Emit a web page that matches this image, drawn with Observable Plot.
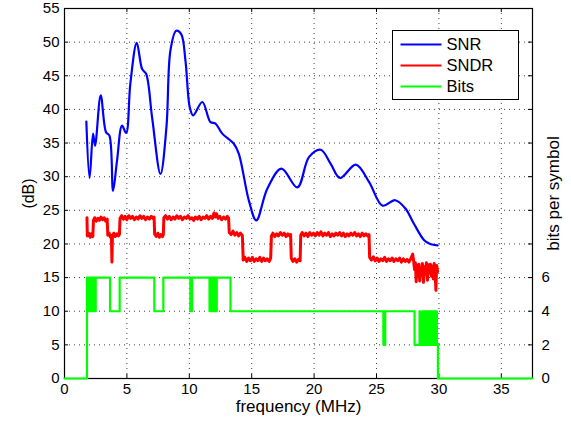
<!DOCTYPE html>
<html>
<head>
<meta charset="utf-8">
<script src="https://cdn.jsdelivr.net/npm/d3@7"></script>
<script src="https://cdn.jsdelivr.net/npm/@observablehq/plot@0.6"></script>
<style>
  html, body { margin: 0; padding: 0; background: #fff; }
  #chart { width: 571px; height: 426px; }
</style>
</head>
<body>
<div id="chart"></div>
<script>
// ---- data ----
const xTicks = [0, 5, 10, 15, 20, 25, 30, 35];
const yTicks = [0, 5, 10, 15, 20, 25, 30, 35, 40, 45, 50, 55];
const bitTicks = [0, 2, 4, 6];

const snrF  = [1.75, 2.01, 2.29, 2.45, 2.9, 3.33, 3.6, 3.89, 4.21, 4.61, 4.94, 5.28, 5.79, 6.22, 6.54, 7.02, 7.69, 8.17, 8.49, 8.95, 9.35, 9.69, 10.04, 10.31, 11.04, 11.7, 12.1, 12.64, 13.57, 13.97, 14.78, 15.37, 16.25, 17.38, 18.66, 19.59, 20.53, 21.33, 22.08, 23.34, 24.41, 25.48, 26.5, 27.3, 28.0, 28.8, 29.3, 29.9];
const snrDb = [38.2, 29.8, 36.4, 34.6, 42.1, 36.6, 36.1, 27.9, 32.4, 37.6, 36.5, 43.9, 49.9, 46.0, 45.3, 38.8, 30.4, 37.4, 48.8, 51.7, 51.2, 47.3, 40.3, 39.1, 41.1, 38.1, 37.9, 36.4, 34.9, 33.4, 26.4, 23.5, 28.2, 31.2, 28.4, 32.9, 34.0, 31.9, 29.8, 31.8, 29.2, 25.7, 26.5, 25.3, 23.0, 20.6, 20.0, 19.8];

const sndrF = [1.80, 1.83, 1.95, 2.05, 2.15, 2.27, 2.32, 2.42, 2.55, 2.68, 2.80, 2.92, 3.05, 3.18, 3.30, 3.42, 3.47, 3.58, 3.68, 3.76, 3.80, 3.84, 3.95, 4.07, 4.20, 4.32, 4.40,
  4.45, 4.58, 4.72, 4.86, 5.00, 5.15, 5.30, 5.45, 5.60, 5.75, 5.90, 6.05, 6.20, 6.35, 6.50, 6.65, 6.80, 6.95, 7.10, 7.18,
  7.22, 7.35, 7.48, 7.60, 7.72, 7.85, 7.92,
  7.96, 8.10, 8.25, 8.40, 8.55, 8.70, 8.85, 9.00, 9.15, 9.30, 9.45, 9.60, 9.75, 9.90, 10.05, 10.20, 10.35, 10.50, 10.65, 10.80, 10.95, 11.10, 11.25, 11.40, 11.55, 11.70, 11.85, 11.98, 12.08, 12.18, 12.30, 12.45, 12.60, 12.75, 12.90, 13.05, 13.15,
  13.20, 13.35, 13.50, 13.65, 13.80, 13.95, 14.10, 14.25,
  14.32, 14.45, 14.60, 14.75, 14.90, 15.05, 15.20, 15.35, 15.50, 15.65, 15.80, 15.95, 16.10, 16.25, 16.40, 16.52,
  16.58, 16.70, 16.85, 17.00, 17.15, 17.30, 17.45, 17.60, 17.75, 17.90, 18.05, 18.12,
  18.17, 18.30, 18.45, 18.60, 18.75, 18.88,
  18.93, 19.05, 19.20, 19.35, 19.50, 19.65, 19.80, 19.95, 20.10, 20.25, 20.40, 20.55, 20.70, 20.85, 21.00, 21.15, 21.30, 21.45, 21.60, 21.75, 21.90, 22.05, 22.20, 22.35, 22.50, 22.65, 22.80, 22.95, 23.10, 23.25, 23.40, 23.55, 23.70, 23.85, 24.00, 24.15, 24.30, 24.40,
  24.45, 24.60, 24.75, 24.90, 25.05, 25.20, 25.35, 25.50, 25.65, 25.80, 25.95, 26.10, 26.25, 26.40, 26.55, 26.70, 26.85, 27.00, 27.15, 27.30, 27.45, 27.60, 27.75, 27.90, 27.98,
  28.05, 28.12, 28.18, 28.25, 28.32, 28.40, 28.46, 28.52, 28.60, 28.68, 28.76, 28.84, 28.92, 29.00, 29.08, 29.16, 29.24, 29.32, 29.40, 29.48, 29.55, 29.62, 29.70, 29.76, 29.82, 29.90];
const sndrDb = [23.9, 21.2, 21.6, 21.0, 21.5, 21.1, 23.5, 23.9, 23.4, 23.8, 23.5, 24.0, 23.6, 23.9, 23.4, 23.7, 21.3, 21.6, 21.0, 21.3, 17.3, 21.1, 21.6, 21.1, 21.5, 21.2, 21.4,
  23.8, 24.2, 23.7, 24.1, 23.6, 24.2, 23.8, 24.1, 23.6, 24.0, 23.7, 24.2, 23.8, 24.1, 23.6, 24.0, 23.7, 24.1, 23.8, 24.0,
  21.5, 21.1, 21.6, 21.0, 21.4, 21.1, 21.4,
  23.9, 24.2, 23.7, 24.1, 23.6, 24.0, 23.7, 24.2, 23.8, 24.1, 23.6, 24.0, 23.8, 24.2, 23.7, 23.9, 23.5, 24.0, 23.7, 24.1, 23.6, 24.0, 23.8, 24.2, 23.7, 24.1, 23.8, 24.6, 24.0, 24.5, 23.8, 24.1, 23.6, 24.0, 23.7, 24.1, 23.8,
  21.7, 21.4, 21.9, 21.3, 21.7, 21.2, 21.6, 21.3,
  17.6, 18.0, 17.4, 17.9, 17.5, 18.0, 17.4, 17.8, 17.5, 18.0, 17.4, 17.9, 17.5, 17.8, 17.4, 17.9,
  21.2, 21.6, 21.1, 21.5, 21.2, 21.7, 21.3, 21.6, 21.1, 21.5, 21.2, 21.4,
  17.9, 17.4, 17.8, 17.3, 17.7, 17.5,
  21.3, 21.7, 21.2, 21.6, 21.1, 21.7, 21.3, 21.6, 21.2, 21.7, 21.3, 21.8, 21.2, 21.6, 21.3, 21.7, 21.1, 21.5, 21.2, 21.6, 21.3, 21.7, 21.2, 21.6, 21.1, 21.5, 21.2, 21.6, 21.3, 21.7, 21.2, 21.5, 21.1, 21.6, 21.2, 21.5, 21.2, 21.4,
  18.0, 17.6, 18.1, 17.5, 17.9, 17.4, 17.8, 17.5, 18.0, 17.4, 17.8, 17.5, 17.9, 17.4, 17.8, 17.5, 17.9, 17.3, 17.8, 17.4, 17.7, 17.3, 17.8, 18.5, 17.4,
  16.2, 17.2, 14.4, 16.8, 15.6, 17.0, 14.5, 16.5, 15.4, 17.1, 14.3, 16.6, 15.5, 17.2, 14.6, 16.9, 15.7, 17.0, 15.2, 16.7, 14.8, 17.1, 15.6, 13.1, 16.8, 15.9];

const bitsF = [0, 1.8, 1.87, 1.94, 2.0, 2.07, 2.14, 2.21, 2.28, 2.35, 2.42, 2.5, 3.65, 4.42, 7.2, 7.92, 10.08, 10.22, 11.62, 11.68, 11.75, 11.8, 11.88, 11.93, 12.0, 12.06, 12.14, 12.2, 13.3, 25.55, 25.7, 28.05, 28.45, 28.52, 28.7, 28.76, 28.82, 28.88, 28.94, 29.0, 29.06, 29.12, 29.18, 29.24, 29.3, 29.36, 29.42, 29.48, 29.54, 29.6, 29.66, 29.72, 29.78, 29.84, 29.92, 37.5];
const bitsV = [0, 6, 4, 6, 4, 6, 4, 6, 4, 6, 4, 6, 4, 6, 4, 6, 4, 6, 4, 6, 4, 6, 4, 6, 4, 6, 4, 6, 4, 2, 4, 2, 4, 2, 4, 2, 4, 2, 4, 2, 4, 2, 4, 2, 4, 2, 4, 2, 4, 2, 4, 2, 4, 2, 0, 0];

const seriesNames = ["SNR", "SNDR", "Bits"];
const seriesColors = ["#0000ff", "#ff0000", "#00ff00"];
const dbPerBit = 2.5; // right axis: 6 bits <-> 15 dB

// ---- tables ----
const snr = snrF.map((f, i) => ({f, v: snrDb[i]}));
const sndr = sndrF.map((f, i) => ({f, v: sndrDb[i]}));
const bits = bitsF.map((f, i) => ({f, v: bitsV[i] * dbPerBit}));

const font = "'Liberation Sans', Arial, Helvetica, sans-serif";
const xMax = 37.5, yMax = 55;
const tx = 0.32, ty = 0.6; // inward tick lengths in data units (~4px)

const chart = Plot.plot({
  width: 571,
  height: 426,
  marginLeft: 64,
  marginRight: 39,
  marginTop: 8,
  marginBottom: 48,
  style: {fontFamily: font, fontSize: "15px", background: "#fff", color: "#000"},
  x: {domain: [0, xMax]},
  y: {domain: [0, yMax]},
  marks: [
    Plot.gridX(xTicks, {stroke: "#000", strokeOpacity: 0.75, strokeDasharray: "1,4"}),
    Plot.gridY(yTicks, {stroke: "#000", strokeOpacity: 0.75, strokeDasharray: "1,4"}),
    Plot.ruleY(yTicks, {x1: 0, x2: tx, stroke: "#000"}),
    Plot.ruleY(yTicks, {x1: xMax - tx, x2: xMax, stroke: "#000"}),
    Plot.ruleX(xTicks, {y1: 0, y2: ty, stroke: "#000"}),
    Plot.ruleX(xTicks, {y1: yMax - ty, y2: yMax, stroke: "#000"}),
    Plot.frame({stroke: "#000", strokeWidth: 1.2}),
    Plot.axisX(xTicks, {tickSize: 0, tickPadding: 5, fontSize: 15, label: null}),
    Plot.axisY(yTicks, {tickSize: 0, tickPadding: 5, fontSize: 15, label: null}),
    Plot.axisY(bitTicks.map(b => b * dbPerBit), {anchor: "right", tickSize: 0, tickPadding: 9, fontSize: 15, label: null, tickFormat: d => d / dbPerBit}),
    Plot.line(bits, {x: "f", y: "v", curve: "step-after", stroke: seriesColors[2], strokeWidth: 2.2}),
    Plot.line(sndr, {x: "f", y: "v", stroke: seriesColors[1], strokeWidth: 3, strokeLinejoin: "round"}),
    Plot.line(snr, {x: "f", y: "v", curve: "catmull-rom", stroke: seriesColors[0], strokeWidth: 2.2}),
    Plot.text(["(dB)"], {text: d => d, frameAnchor: "left", dx: -36, rotate: -90, textAnchor: "middle", fontSize: 16}),
    Plot.text(["frequency (MHz)"], {text: d => d, frameAnchor: "bottom", dy: 33, textAnchor: "middle", fontSize: 17}),
    Plot.text(["bits per symbol"], {text: d => d, frameAnchor: "right", dx: 21, rotate: -90, textAnchor: "middle", fontSize: 17})
  ]
});
document.getElementById("chart").appendChild(chart);

// legend (inside the axes, top right)
const svg = d3.select(chart);
const lg = svg.append("g").attr("font-family", font).attr("font-size", 16.5).attr("text-anchor", "start");
const lx = 392.5, ly = 30.5, lw = 126, lh = 69;
lg.append("rect").attr("x", lx).attr("y", ly).attr("width", lw).attr("height", lh)
  .attr("fill", "#fff").attr("stroke", "#000").attr("stroke-width", 1);
seriesNames.forEach((name, i) => {
  const yy = ly + 14 + i * 21;
  lg.append("line").attr("x1", lx + 8).attr("x2", lx + 49).attr("y1", yy).attr("y2", yy)
    .attr("stroke", seriesColors[i]).attr("stroke-width", 2.2);
  lg.append("text").attr("x", lx + 54).attr("y", yy).attr("dy", "0.36em").attr("text-anchor", "start").text(name);
});
</script>
</body>
</html>
